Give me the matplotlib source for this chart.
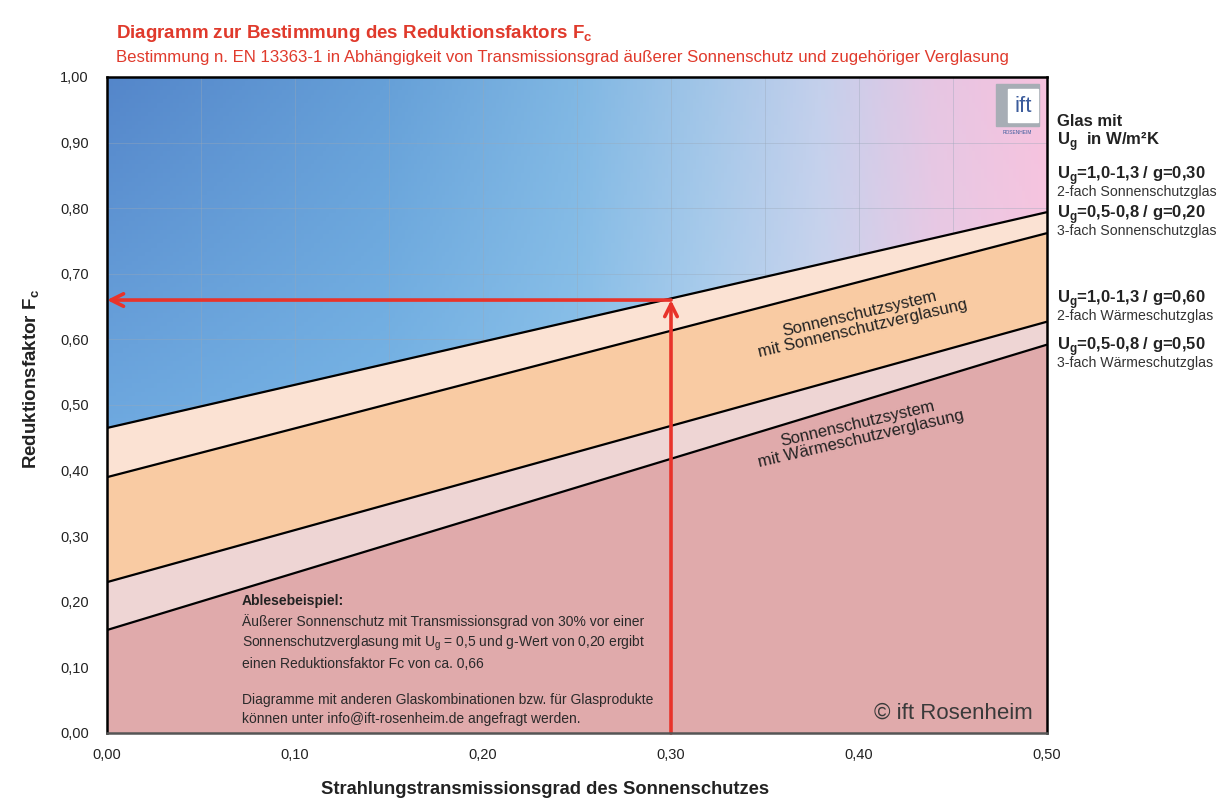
import numpy as np
import matplotlib.pyplot as plt
from matplotlib import font_manager
from matplotlib.patches import Rectangle

# Werte aus dem Diagramm (Endpunkte der Geraden bei 0,00 und 0,50)
x_ends = [0.0, 0.5]
fc_line_a = [0.465, 0.794]   # obere Grenze Sonnenschutzverglasung
fc_line_b = [0.390, 0.762]
fc_line_c = [0.230, 0.627]   # obere Grenze Waermeschutzverglasung
fc_line_d = [0.157, 0.592]

# Ablesebeispiel
example_tau = 0.30
example_fc = 0.66

x_ticks = [0.0, 0.1, 0.2, 0.3, 0.4, 0.5]
y_ticks = [0.0, 0.1, 0.2, 0.3, 0.4, 0.5, 0.6, 0.7, 0.8, 0.9, 1.0]

names = {f.name for f in font_manager.fontManager.ttflist}
narrow = 'Liberation Sans Narrow' if 'Liberation Sans Narrow' in names else 'Liberation Sans'

plt.rcParams['font.family'] = ['Liberation Sans', 'DejaVu Sans']
plt.rcParams['mathtext.fontset'] = 'custom'
plt.rcParams['mathtext.rm'] = 'Liberation Sans'
plt.rcParams['mathtext.bf'] = 'Liberation Sans:bold'

W, H = 1221, 807
fig = plt.figure(figsize=(W / 100, H / 100), dpi=100)
ax = fig.add_axes([107 / W, 1 - 733 / H, 940 / W, 656 / H])

# Farbverlauf im Hintergrund (blau -> rosa)
def hex2rgb(h):
    h = h.lstrip('#')
    return np.array([int(h[i:i + 2], 16) / 255 for i in (0, 2, 4)])

stop_x = [0.0, 0.15, 0.25, 0.32, 0.38, 0.44, 0.5]
top_cols = ['#5486ca', '#66a0d8', '#80b7e3', '#a3c6e8', '#c4d0ec', '#e6c6e3', '#f6c2de']
low_cols = ['#6faae0', '#79b6e6', '#8cc2ea', '#aed0ee', '#cbd6ee', '#e8cde6', '#f6c9e1']
nx, ny = 300, 150
gx = np.linspace(0, 0.5, nx)
gy = np.linspace(0, 1, ny)
top = np.stack([np.interp(gx, stop_x, [hex2rgb(c)[k] for c in top_cols]) for k in range(3)], axis=-1)
low = np.stack([np.interp(gx, stop_x, [hex2rgb(c)[k] for c in low_cols]) for k in range(3)], axis=-1)
wgt = np.clip((gy - 0.45) / 0.55, 0, 1)[:, None, None]
img = low[None, :, :] * (1 - wgt) + top[None, :, :] * wgt
ax.imshow(img, extent=[0, 0.5, 0, 1], origin='lower', aspect='auto', zorder=0)

# Baender
xs = np.array(x_ends)
ax.fill_between(xs, fc_line_b, fc_line_a, color='#fbe2d3', lw=0, zorder=2)
ax.fill_between(xs, fc_line_c, fc_line_b, color='#f9cba3', lw=0, zorder=2)
ax.fill_between(xs, fc_line_d, fc_line_c, color='#eed5d4', lw=0, zorder=2)
ax.fill_between(xs, 0, fc_line_d, color='#e0aaab', lw=0, zorder=2)
for line in (fc_line_a, fc_line_b, fc_line_c, fc_line_d):
    ax.plot(xs, line, color='black', lw=1.6, zorder=3, solid_capstyle='butt')

ax.set_xlim(0, 0.5)
ax.set_ylim(0, 1)
ax.set_xticks(x_ticks)
ax.set_xticks([0.05, 0.15, 0.25, 0.35, 0.45], minor=True)
ax.set_yticks(y_ticks)
ax.set_xticklabels([f'{v:.2f}'.replace('.', ',') for v in x_ticks], fontsize=10.5)
ax.set_yticklabels([f'{v:.2f}'.replace('.', ',') for v in y_ticks], fontsize=10.5)
ax.tick_params(which='both', length=0, colors='#222222')
ax.tick_params(axis='x', pad=11)
ax.tick_params(axis='y', pad=13)
ax.set_axisbelow('line')
ax.grid(which='both', axis='x', color='#9aa8b8', lw=0.6, alpha=0.45)
ax.grid(which='major', axis='y', color='#9aa8b8', lw=0.6, alpha=0.45)
for s in ax.spines.values():
    s.set_linewidth(1.8)
    s.set_color('black')
    s.set_zorder(5)
ax.spines['bottom'].set_color('#555555')

# Pfeile Ablesebeispiel
red = '#e8332a'
ap = dict(arrowstyle='->,head_length=0.9,head_width=0.45', color=red, lw=2.6,
          shrinkA=0, shrinkB=0)
ax.annotate('', xy=(example_tau, example_fc), xytext=(example_tau, 0), arrowprops=ap, zorder=4)
ax.annotate('', xy=(0, example_fc), xytext=(example_tau, example_fc), arrowprops=ap, zorder=4)

# Beschriftung der Baender
p0 = ax.transData.transform((0, fc_line_b[0]))
p1 = ax.transData.transform((0.5, fc_line_b[1]))
ang = np.degrees(np.arctan2(p1[1] - p0[1], p1[0] - p0[0])) - 1.5
ax.text(0.401, 0.628, 'Sonnenschutzsystem\nmit Sonnenschutzverglasung', rotation=ang,
        rotation_mode='anchor', ha='center', va='center', fontsize=12,
        color='#222222', zorder=4, linespacing=1.0)
ax.text(0.400, 0.460, 'Sonnenschutzsystem\nmit Wärmeschutzverglasung', rotation=ang,
        rotation_mode='anchor', ha='center', va='center', fontsize=12,
        color='#222222', zorder=4, linespacing=1.0)

# Erlaeuterung
ax.text(0.1436, 0.212, 'Ablesebeispiel:', transform=ax.transAxes, fontsize=10,
        fontweight='bold', color='#222222', va='top', zorder=4)
ax.text(0.1436, 0.182,
        'Äußerer Sonnenschutz mit Transmissionsgrad von 30% vor einer\n'
        'Sonnenschutzverglasung mit U$_\\mathrm{g}$ = 0,5 und g-Wert von 0,20 ergibt\n'
        'einen Reduktionsfaktor Fc von ca. 0,66\n\n'
        'Diagramme mit anderen Glaskombinationen bzw. für Glasprodukte\n'
        'können unter info@ift-rosenheim.de angefragt werden.',
        transform=ax.transAxes, fontsize=10, family=narrow, color='#2a2a2a',
        va='top', zorder=4, linespacing=1.38)
ax.text(0.985, 0.03, '© ift Rosenheim', transform=ax.transAxes, fontsize=16,
        color='#3a3a3a', ha='right', va='center', zorder=4)

# Logo
fig.patches.append(Rectangle((996 / W, 1 - 126 / H), 43 / W, 42 / H, transform=fig.transFigure,
                             color='#a7adb5', zorder=3))
fig.patches.append(Rectangle((1008 / W, 1 - 122 / H), 30 / W, 33 / H, transform=fig.transFigure,
                             color='white', zorder=3))
fig.text(1023 / W, 1 - 106 / H, 'ift', fontsize=16, color='#3c5c9c', ha='center', va='center',
         zorder=4)
fig.text(1017 / W, 1 - 132 / H, 'ROSENHEIM', fontsize=3.5, color='#3c5c9c', ha='center',
         va='center', zorder=4)

# Titel
fig.text(116 / W, 1 - 38 / H, 'Diagramm zur Bestimmung des Reduktionsfaktors F$_\\mathbf{c}$',
         fontsize=13.5, fontweight='bold', color='#e03a2c', va='baseline')
fig.text(116 / W, 1 - 62 / H,
         'Bestimmung n. EN 13363-1 in Abhängigkeit von Transmissionsgrad äußerer Sonnenschutz und zugehöriger Verglasung',
         fontsize=12.1, family=narrow, color='#e03a2c', va='baseline')

# Achsentitel
fig.text(32 / W, 1 - 379 / H, 'Reduktionsfaktor F$_\\mathbf{c}$', rotation=90, fontsize=13.5,
         fontweight='bold', ha='center', va='center', color='#222222')
fig.text(545 / W, 1 - 790 / H, 'Strahlungstransmissionsgrad des Sonnenschutzes', fontsize=13.2,
         fontweight='bold', ha='center', va='center', color='#222222')

# Legende rechts
lx = 1057 / W
fig.text(lx, 1 - 122 / H, 'Glas mit', fontsize=12, fontweight='bold', va='center', color='#222222')
fig.text(lx, 1 - 142 / H, 'U$_\\mathbf{g}$  in W/m²K', fontsize=12, fontweight='bold',
         va='center', color='#222222')
legend_items = [
    (176, 'U$_\\mathbf{g}$=1,0-1,3 / g=0,30', '2-fach Sonnenschutzglas'),
    (215, 'U$_\\mathbf{g}$=0,5-0,8 / g=0,20', '3-fach Sonnenschutzglas'),
    (300, 'U$_\\mathbf{g}$=1,0-1,3 / g=0,60', '2-fach Wärmeschutzglas'),
    (347, 'U$_\\mathbf{g}$=0,5-0,8 / g=0,50', '3-fach Wärmeschutzglas'),
]
for y, head, sub in legend_items:
    fig.text(lx, 1 - y / H, head, fontsize=12, fontweight='bold', va='center', color='#222222')
    fig.text(lx, 1 - (y + 16) / H, sub, fontsize=10.2, family=narrow, va='center', color='#333333')

fig.savefig('out.png', dpi=100)
